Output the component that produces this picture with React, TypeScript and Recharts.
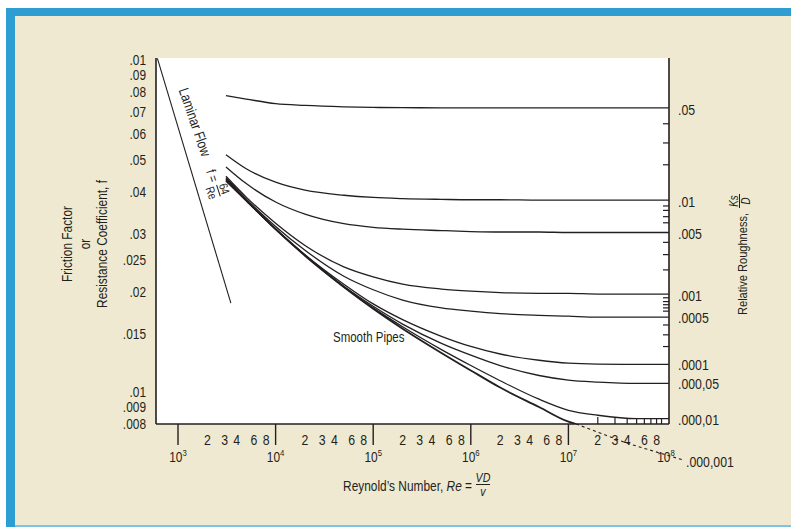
import { LineChart, Line, XAxis, YAxis, CartesianGrid, ReferenceLine } from 'recharts';

// no narrow font installed: Liberation Sans squeezed horizontally stands in for it
const FONT = '"Liberation Sans", Arial, sans-serif';
const SX = 0.82;
const INK = '#231f20';

// Reynolds numbers where the roughness curves were read off
const RE_STOPS = [3100, 5000, 1e4, 2e4, 5e4, 1e5, 2e5, 5e5, 1e6, 2e6, 5e6, 1e7, 2e7, 5e7, 1.07e8];

// friction factor per relative roughness
const F_05 = [0.078, 0.0762, 0.0738, 0.0729, 0.0722, 0.0719, 0.0718, 0.0717, 0.0717, 0.0717, 0.0717, 0.0717, 0.0717, 0.0717, 0.0717];
const F_01 = [0.0518, 0.047, 0.0428, 0.0405, 0.0391, 0.0385, 0.0382, 0.038, 0.0379, 0.0379, 0.0378, 0.0378, 0.0378, 0.0378, 0.0378];
const F_005 = [0.0476, 0.0424, 0.0373, 0.0343, 0.0321, 0.0313, 0.0309, 0.0306, 0.0304, 0.0303, 0.0303, 0.0302, 0.0302, 0.0302, 0.0302];
const F_001 = [0.0446, 0.0386, 0.0322, 0.0276, 0.0238, 0.0222, 0.0211, 0.0204, 0.0201, 0.0199, 0.0198, 0.0198, 0.0197, 0.0197, 0.0197];
const F_0005 = [0.0442, 0.0381, 0.0315, 0.0267, 0.0223, 0.0203, 0.0189, 0.0179, 0.0175, 0.0172, 0.017, 0.0169, 0.0168, 0.0168, 0.0168];
const F_0001 = [0.0439, 0.0378, 0.031, 0.0259, 0.0211, 0.0184, 0.0165, 0.0147, 0.0137, 0.013, 0.01245, 0.0122, 0.01212, 0.0121, 0.0121];
const F_00005 = [0.0437, 0.0377, 0.0309, 0.0258, 0.0208, 0.0181, 0.016, 0.014, 0.0129, 0.012, 0.0112, 0.01085, 0.0107, 0.0106, 0.0106];
const F_00001 = [0.0435, 0.0377, 0.0309, 0.0258, 0.0207, 0.0179, 0.0157, 0.0134, 0.012, 0.0108, 0.0095, 0.0088, 0.0085, 0.0083, 0.0083];

const SMOOTH_RE = [3100, 5000, 1e4, 2e4, 5e4, 1e5, 2e5, 5e5, 1e6, 2e6, 5e6, 1e7, 1.2e7];
const SMOOTH_F = [0.0432, 0.0377, 0.0309, 0.0257, 0.0207, 0.0178, 0.0155, 0.0131, 0.0116, 0.0103, 0.009, 0.00813, 0.008];

const LAMINAR_RE = [615, 3480];
const LAMINAR_F = [0.101, 0.0185];

// dashed continuation below the plot (.000,001)
const TAIL_RE = [1.2e7, 4e7, 1.45e8];
const TAIL_F = [0.008, 0.007, 0.00625];

// axes
const X_MIN = 595;
const X_MAX = 1.073e8;
const Y_MIN = 0.008;
const Y_MAX = 0.1013;
const DECADES = [3, 4, 5, 6, 7, 8];
const MINOR_LABELS = [2, 3, 4, 6, 8];
const INNER_TICKS = [2e7, 3e7, 4e7, 5e7, 6e7, 7e7, 8e7, 9e7];

const F_TICKS = [0.008, 0.009, 0.01, 0.015, 0.02, 0.025, 0.03, 0.04, 0.05, 0.06, 0.07, 0.08, 0.09, 0.1];
const F_TICK_LABELS = ['.008', '.009', '.01', '.015', '.02', '.025', '.03', '.04', '.05', '.06', '.07', '.08', '.09', '.01'];

const ROUGHNESS_LABELS = ['.05', '.01', '.005', '.001', '.0005', '.0001', '.000,05', '.000,01'];
const ROUGHNESS_LABEL_F = [0.0707, 0.0375, 0.03, 0.0195, 0.0167, 0.01206, 0.01057, 0.00826];
const ROUGHNESS_MINOR_F = [0.0642, 0.0562, 0.0483, 0.0363, 0.0352, 0.0337, 0.0323, 0.0282, 0.0259, 0.0233,
  0.0192, 0.0187, 0.0183, 0.0179, 0.0175, 0.0159, 0.01485, 0.01369];

const series = [
  { key: 'r05', f: F_05 },
  { key: 'r01', f: F_01 },
  { key: 'r005', f: F_005 },
  { key: 'r001', f: F_001 },
  { key: 'r0005', f: F_0005 },
  { key: 'r0001', f: F_0001 },
  { key: 'r00005', f: F_00005 },
  { key: 'r00001', f: F_00001 },
].map((s) => ({ key: s.key, data: RE_STOPS.map((re, i) => ({ re, f: s.f[i] })) }));

const smoothData = SMOOTH_RE.map((re, i) => ({ re, f: SMOOTH_F[i] }));
const laminarData = LAMINAR_RE.map((re, i) => ({ re, f: LAMINAR_F[i] }));

const xTicks: number[] = [];
DECADES.forEach((d) => {
  xTicks.push(Math.pow(10, d));
  if (d < 8) MINOR_LABELS.forEach((m) => xTicks.push(m * Math.pow(10, d)));
});
INNER_TICKS.forEach((t) => { if (!xTicks.includes(t)) xTicks.push(t); });
xTicks.sort((a, b) => a - b);

const rightTicks = [...ROUGHNESS_LABEL_F, ...ROUGHNESS_MINOR_F].sort((a, b) => a - b);

function NText({ x, y, rot = 0, size, anchor = 'start', italic = false, dy, children }: any) {
  return (
    <text
      transform={`translate(${x},${y}) rotate(${rot}) scale(${SX},1)`}
      textAnchor={anchor}
      fontSize={size}
      fontFamily={FONT}
      fontStyle={italic ? 'italic' : 'normal'}
      fill={INK}
      dy={dy}
    >
      {children}
    </text>
  );
}

function ReTick(props: any) {
  const { x, y, payload } = props;
  const v = payload.value as number;
  const exp = Math.floor(Math.log10(v) + 1e-9);
  const mant = Math.round(v / Math.pow(10, exp));
  const parts = [];
  if (mant === 1) {
    if (exp < 8) parts.push(<line key="l" x1={x} x2={x} y1={y} y2={y + 21} stroke={INK} strokeWidth={1.4} />);
    parts.push(
      <NText key="t" x={x} y={y + 38} anchor="middle" size={14.5}>
        10<tspan fontSize={9.5} dy={-6}>{exp}</tspan>
      </NText>
    );
  } else if (MINOR_LABELS.includes(mant)) {
    parts.push(<NText key="t" x={x} y={y + 21} anchor="middle" size={15}>{mant}</NText>);
  }
  if (INNER_TICKS.includes(v)) {
    parts.push(<line key="i" x1={x} x2={x} y1={y} y2={y - (mant <= 3 ? 7 : 5)} stroke={INK} strokeWidth={1.2} />);
  }
  return <g>{parts}</g>;
}

function FrictionTick(props: any) {
  const { x, y, payload } = props;
  const idx = F_TICKS.indexOf(payload.value);
  return (
    <NText x={x - 10} y={y} dy="0.36em" anchor="end" size={14.5}>
      {idx >= 0 ? F_TICK_LABELS[idx] : ''}
    </NText>
  );
}

function RoughnessTick(props: any) {
  const { x, y, payload } = props;
  const idx = ROUGHNESS_LABEL_F.indexOf(payload.value);
  if (idx >= 0) {
    return (
      <NText x={x + 9} y={y} dy="0.36em" size={15}>
        {ROUGHNESS_LABELS[idx]}
      </NText>
    );
  }
  return <line x1={x - 6} x2={x} y1={y} y2={y} stroke={INK} strokeWidth={1.2} />;
}

export default function App() {
  const axisLine = { stroke: INK, strokeWidth: 1.6 };
  return (
    <div style={{ position: 'absolute', left: 0, top: 0, width: 791, height: 527, background: '#ffffff', overflow: 'hidden' }}>
      <div style={{ position: 'absolute', left: 6, top: 8, width: 785, height: 8, background: '#2d9dd2' }} />
      <div style={{ position: 'absolute', left: 6, top: 8, width: 9, height: 519, background: '#2d9dd2' }} />
      <div style={{ position: 'absolute', left: 15, top: 16, width: 776, height: 509, background: '#f0e9d1' }} />
      <div style={{ position: 'absolute', left: 15, top: 525, width: 776, height: 2, background: '#7cc4e6' }} />

      <div style={{ position: 'absolute', left: 0, top: 0 }}>
        <LineChart width={791} height={527} margin={{ top: 58, right: 62, bottom: 43, left: 96 }}>
          <CartesianGrid horizontal={false} vertical={false} fill="#ffffff" fillOpacity={1} yAxisId="f" />
          <XAxis
            dataKey="re"
            type="number"
            scale="log"
            domain={[X_MIN, X_MAX]}
            allowDataOverflow
            ticks={xTicks}
            interval={0}
            height={60}
            tickSize={0}
            tickMargin={0}
            tickLine={false}
            axisLine={axisLine}
            tick={<ReTick />}
          />
          <YAxis
            yAxisId="f"
            type="number"
            scale="log"
            domain={[Y_MIN, Y_MAX]}
            allowDataOverflow
            ticks={F_TICKS}
            interval={0}
            width={60}
            tickSize={0}
            tickMargin={0}
            tickLine={false}
            axisLine={axisLine}
            tick={<FrictionTick />}
          />
          <YAxis
            yAxisId="rough"
            orientation="right"
            type="number"
            scale="log"
            domain={[Y_MIN, Y_MAX]}
            allowDataOverflow
            ticks={rightTicks}
            interval={0}
            width={60}
            tickSize={0}
            tickMargin={0}
            tickLine={false}
            axisLine={axisLine}
            tick={<RoughnessTick />}
          />
          <Line
            yAxisId="f"
            data={laminarData}
            dataKey="f"
            type="linear"
            stroke={INK}
            strokeWidth={1.1}
            dot={false}
            activeDot={false}
            isAnimationActive={false}
          />
          {series.map((s) => (
            <Line
              key={s.key}
              yAxisId="f"
              data={s.data}
              dataKey="f"
              type="monotone"
              stroke={INK}
              strokeWidth={1.3}
              dot={false}
              activeDot={false}
              isAnimationActive={false}
            />
          ))}
          <Line
            yAxisId="f"
            data={smoothData}
            dataKey="f"
            type="monotone"
            stroke={INK}
            strokeWidth={1.8}
            dot={false}
            activeDot={false}
            isAnimationActive={false}
          />
          {TAIL_RE.slice(1).map((re, i) => (
            <ReferenceLine
              key={'tail' + i}
              yAxisId="f"
              segment={[{ x: TAIL_RE[i], y: TAIL_F[i] }, { x: re, y: TAIL_F[i + 1] }]}
              stroke={INK}
              strokeWidth={1.1}
              strokeDasharray="3 3"
              ifOverflow="visible"
            />
          ))}
        </LineChart>
      </div>

      <svg width={791} height={527} style={{ position: 'absolute', left: 0, top: 0, pointerEvents: 'none' }}>
        <NText x={72} y={244} rot={-90} anchor="middle" size={14.5}>Friction Factor</NText>
        <NText x={90} y={244} rot={-90} anchor="middle" size={14.5}>or</NText>
        <NText x={107} y={244} rot={-90} anchor="middle" size={14.5}>Resistance Coefficient, f</NText>

        <NText x={472} y={491} anchor="end" size={14.5}>
          Reynold’s Number, <tspan fontStyle="italic">Re</tspan> =
        </NText>
        <NText x={483} y={482} anchor="middle" size={13} italic>VD</NText>
        <line x1={476} x2={490} y1={484.5} y2={484.5} stroke={INK} strokeWidth={1} />
        <NText x={483} y={496} anchor="middle" size={13} italic>v</NText>

        <g transform="translate(743,253) rotate(-90)">
          <NText x={-62} y={4} size={13.5}>Relative Roughness,</NText>
          <NText x={52} y={-5.5} anchor="middle" size={12} italic>Ks</NText>
          <line x1={45} x2={59} y1={-3.5} y2={-3.5} stroke={INK} strokeWidth={1} />
          <NText x={52} y={7} anchor="middle" size={12} italic>D</NText>
        </g>

        <NText x={195} y={122} rot={71} anchor="middle" dy="0.35em" size={14.5}>Laminar Flow</NText>
        <g transform="translate(217.5,191) rotate(72)">
          <NText x={-16} y={0} dy="0.35em" anchor="middle" size={13.5}>f =</NText>
          <NText x={0} y={-3} anchor="middle" size={12}>64</NText>
          <line x1={-6} x2={6} y1={-1} y2={-1} stroke={INK} strokeWidth={1} />
          <NText x={0} y={10.5} anchor="middle" size={12}>Re</NText>
        </g>

        <NText x={333} y={342} size={14}>Smooth Pipes</NText>
        <NText x={686} y={462} dy="0.36em" size={15}>.000,001</NText>
      </svg>
    </div>
  );
}
